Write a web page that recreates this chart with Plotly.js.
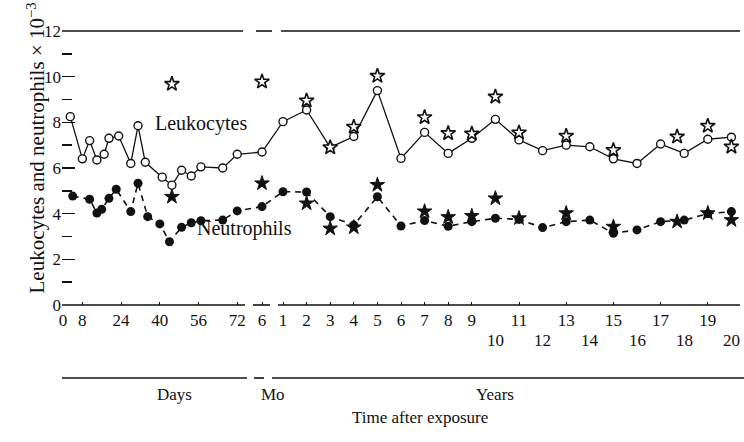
<!DOCTYPE html>
<html><head><meta charset="utf-8">
<script src="https://cdn.plot.ly/plotly-3.0.1.min.js"></script>
<style>html,body{margin:0;padding:0;background:#fff}#chart{width:744px;height:442px}</style>
</head><body><div id="chart"></div>
<script>
// ---- data (time in original units) ----
const leukDays = [3, 8, 11, 14, 17, 19, 23, 28, 31, 34, 41, 45, 49, 53, 57, 66, 72];
const leukDayVals = [8.25, 6.4, 7.2, 6.35, 6.6, 7.3, 7.4, 6.2, 7.85, 6.25, 5.6, 5.25, 5.9, 5.65, 6.05, 6.0, 6.6];
const leukMonths = [6];
const leukMonthVals = [6.7];
const leukYears = [1,2,3,4,5,6,7,8,9,10,11,12,13,14,15,16,17,18,19,20];
const leukYearVals = [8.03, 8.54, 6.9, 7.38, 9.39, 6.42, 7.56, 6.64, 7.3, 8.13, 7.23, 6.76, 7.0, 6.93, 6.4, 6.2, 7.05, 6.64, 7.26, 7.35];

const neutDays = [4, 11, 14, 16, 19, 22, 28, 31, 35, 40, 44, 49, 53, 57, 66, 72];
const neutDayVals = [4.77, 4.63, 4.03, 4.19, 4.67, 5.07, 4.09, 5.33, 3.87, 3.55, 2.77, 3.4, 3.6, 3.69, 3.72, 4.12];
const neutMonths = [6];
const neutMonthVals = [4.31];
const neutYears = [1,2,3,4,5,6,7,8,9,10,11,12,13,14,15,16,17,18,19,20];
const neutYearVals = [4.96, 4.95, 3.87, 3.5, 4.74, 3.46, 3.7, 3.45, 3.65, 3.8, 3.75, 3.39, 3.65, 3.72, 3.14, 3.29, 3.65, 3.72, 4.0, 4.09];

const openStarDays = [45];
const openStarDayVals = [9.68];
const openStarMonths = [6];
const openStarMonthVals = [9.78];
const openStarYears = [2,3,4,5,7,8,9,10,11,13,15,17.7,19,20];
const openStarYearVals = [8.95, 6.9, 7.8, 10.03, 8.22, 7.52, 7.5, 9.12, 7.55, 7.4, 6.78, 7.37, 7.84, 6.93];

const fillStarDays = [45];
const fillStarDayVals = [4.74];
const fillStarMonths = [6];
const fillStarMonthVals = [5.33];
const fillStarYears = [2,3,4,5,7,8,9,10,11,13,15,17.7,19,20];
const fillStarYearVals = [4.45, 3.35, 3.4, 5.26, 4.1, 3.85, 3.9, 4.67, 3.8, 4.02, 3.43, 3.65, 4.02, 3.72];

const dayTicks = [0, 8, 24, 40, 56, 72];
const monthTicks = [6];
const yearTicksRow1 = [1,2,3,4,5,6,7,8,9,11,13,15,17,19];
const yearTicksRow2 = [10,12,14,16,18,20];
const yTicks = [0,2,4,6,8,10,12];
const yMinorTicks = [1,3,5,7,9,11];

// ---- broken time axis: map each segment onto one linear axis ----
const X0 = 62, X1 = 740;
const dayPos = d => 63 + 2.42 * d;
const monPos = m => 262 + 4 * (m - 6);
const yrPos  = y => 259.4 + 23.6 * y;
const px2p = px => (px - X0) / (X1 - X0);
const PLOT_TOP = 31, PLOT_BOT = 305;
const py2p = py => (PLOT_BOT - py) / (PLOT_BOT - PLOT_TOP);

function series(d, dv, m, mv, y, yv) {
  return {
    x: d.map(dayPos).concat(m.map(monPos), y.map(yrPos)),
    y: dv.concat(mv, yv)
  };
}
const leuk = series(leukDays, leukDayVals, leukMonths, leukMonthVals, leukYears, leukYearVals);
const neut = series(neutDays, neutDayVals, neutMonths, neutMonthVals, neutYears, neutYearVals);
const ostar = series(openStarDays, openStarDayVals, openStarMonths, openStarMonthVals, openStarYears, openStarYearVals);
const fstar = series(fillStarDays, fillStarDayVals, fillStarMonths, fillStarMonthVals, fillStarYears, fillStarYearVals);

const INK = '#111';
const traces = [
  {x: leuk.x, y: leuk.y, mode: 'lines+markers', type: 'scatter', cliponaxis: false,
   line: {color: INK, width: 1.3},
   marker: {symbol: 'circle', size: 8, color: '#fff', line: {color: INK, width: 1.4}}},
  {x: neut.x, y: neut.y, mode: 'lines+markers', type: 'scatter', cliponaxis: false,
   line: {color: INK, width: 1.6, dash: '6px,5px'},
   marker: {symbol: 'circle', size: 9, color: INK}},
  {x: ostar.x, y: ostar.y, mode: 'markers', type: 'scatter', cliponaxis: false,
   marker: {symbol: 'star', size: 11, color: '#fff', line: {color: INK, width: 1.6}}},
  {x: fstar.x, y: fstar.y, mode: 'markers', type: 'scatter', cliponaxis: false,
   marker: {symbol: 'star', size: 11, color: INK, line: {color: INK, width: 1}}}
];

const tickvals = dayTicks.map(dayPos).concat(monthTicks.map(monPos), yearTicksRow1.map(yrPos));
const ticktext = dayTicks.map(String).concat(monthTicks.map(String), yearTicksRow1.map(String));

function hseg(x0, x1, yp, w) {
  return {type: 'line', xref: 'paper', yref: 'paper', x0: px2p(x0), x1: px2p(x1), y0: yp, y1: yp,
          line: {color: INK, width: w || 1.6}};
}
const shapes = [
  hseg(62, 243, 1), hseg(256, 272, 1), hseg(281, 740, 1),
  hseg(62, 245, 0), hseg(253, 270, 0), hseg(278, 740, 0),
  hseg(62, 247, py2p(378)), hseg(254, 264, py2p(378)), hseg(272, 744, py2p(378))
];

const FONT = 'Liberation Serif, Times New Roman, serif';
const annotations = [
  {text: 'Leukocytes', xref: 'x', yref: 'paper', x: 201, y: py2p(123), showarrow: false, font: {size: 20}},
  {text: 'Neutrophils', xref: 'x', yref: 'paper', x: 244, y: py2p(242), showarrow: false, font: {size: 20}},
  {text: 'Leukocytes and neutrophils \u00d7 10<sup>\u22123</sup>', xref: 'paper', yref: 'paper',
   x: px2p(20), y: py2p(148), textangle: -90, showarrow: false, font: {size: 21}},
  {text: 'Days', xref: 'paper', yref: 'paper', x: px2p(155), y: py2p(406), showarrow: false, font: {size: 17}},
  {text: 'Mo', xref: 'paper', yref: 'paper', x: px2p(259), y: py2p(406), showarrow: false, font: {size: 17}},
  {text: 'Years', xref: 'paper', yref: 'paper', x: px2p(495), y: py2p(406), showarrow: false, font: {size: 17}},
  {text: 'Time after exposure', xref: 'paper', yref: 'paper', x: px2p(420), y: py2p(429), showarrow: false, font: {size: 17}}
].concat(yearTicksRow2.map(v => ({
  text: String(v), xref: 'x', yref: 'paper', x: yrPos(v), y: py2p(352), showarrow: false, font: {size: 17}
})));

const layout = {
  width: 744, height: 442,
  margin: {l: X0, r: 744 - X1, t: PLOT_TOP, b: 442 - PLOT_BOT},
  paper_bgcolor: '#fff', plot_bgcolor: '#fff', showlegend: false,
  font: {family: FONT, color: INK, size: 17},
  xaxis: {range: [X0, X1], showgrid: false, zeroline: false, showline: false,
          tickmode: 'array', tickvals: tickvals, ticktext: ticktext, ticklabelstandoff: 3,
          ticks: 'inside', ticklen: 3, tickcolor: INK, tickfont: {size: 17}},
  yaxis: {range: [0, 12], showgrid: false, zeroline: false, showline: false,
          tickmode: 'array', tickvals: yTicks, ticks: 'inside', ticklen: 13, tickwidth: 1.6, tickcolor: INK,
          tickfont: {size: 17},
          minor: {tickmode: 'array', tickvals: yMinorTicks, ticks: 'inside', ticklen: 10, tickwidth: 1.6, tickcolor: INK}},
  shapes: shapes,
  annotations: annotations
};

Plotly.newPlot('chart', traces, layout, {staticPlot: true, displayModeBar: false});
</script></body></html>
